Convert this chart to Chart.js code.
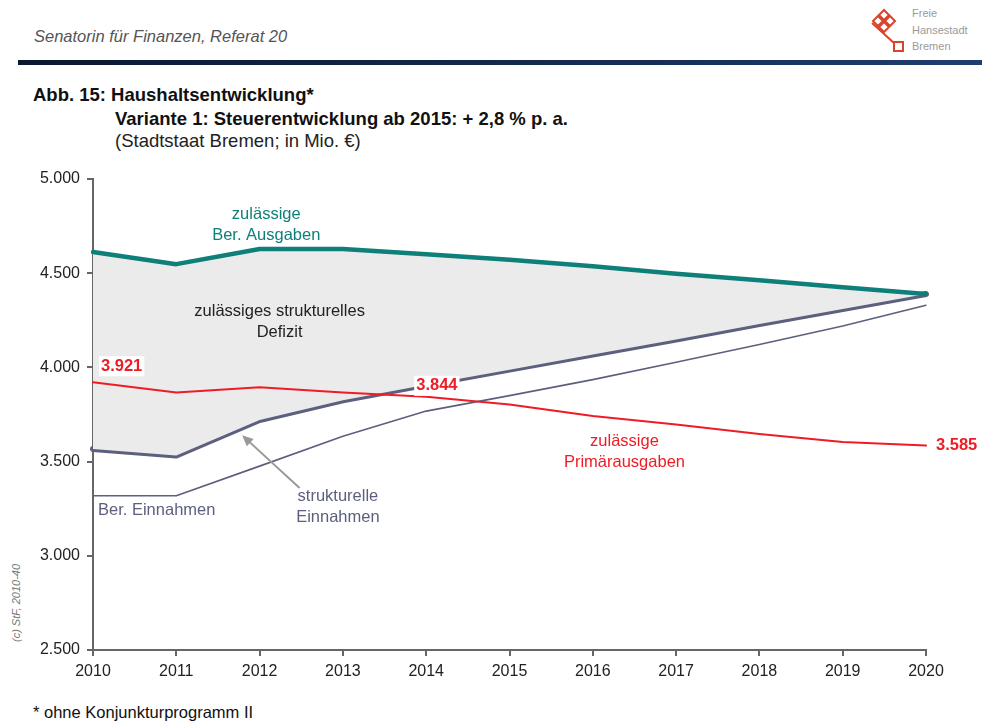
<!DOCTYPE html>
<html lang="de">
<head>
<meta charset="utf-8">
<script src="https://cdn.jsdelivr.net/npm/chart.js@4/dist/chart.umd.min.js"></script>
<style>
  body { margin: 0; background: #fff; font-family: "Liberation Sans", Arial, sans-serif; }
  #page { position: relative; width: 982px; height: 722px; overflow: hidden; }
  .abs { position: absolute; white-space: nowrap; }
  #dept { left: 34px; top: 27px; font-size: 16.5px; font-style: italic; color: #555; }
  #bar { left: 18px; top: 60px; width: 964px; height: 5px;
         background: linear-gradient(to right, #0b1830, #13284c 50%, #1e3d70); }
  .logotxt { left: 912px; font-size: 11px; color: #9a9a9a; }
  #t1 { left: 33px; top: 84px; font-size: 18.5px; font-weight: bold; color: #111; }
  #t2 { left: 115px; top: 108px; font-size: 18.5px; font-weight: bold; color: #111; }
  #t3 { left: 115px; top: 130px; font-size: 18.5px; color: #222; }
  #foot { left: 33px; top: 703px; font-size: 16.5px; color: #111; }
  #copy { left: 16px; top: 603px; font-size: 11px; font-style: italic; color: #777;
          transform: translate(-50%, -50%) rotate(-90deg); }
  #chart { position: absolute; left: 0; top: 160px; }
</style>
</head>
<body>
<div id="page">
  <div class="abs" id="dept">Senatorin für Finanzen, Referat 20</div>
  <div class="abs" id="bar"></div>
  <svg class="abs" style="left:866px;top:6px" width="44" height="50" viewBox="0 0 44 50">
    <g fill="none" stroke="#d9442b" stroke-width="2">
      <path d="M18 4 L23 9 L18 14 L13 9 Z"/>
      <path d="M24 10 L29 15 L24 20 L19 15 Z"/>
      <path d="M12 10 L17 15 L12 20 L7 15 Z"/>
      <path d="M18 16 L23 21 L18 26 L13 21 Z"/>
      <path d="M6 17 L28 37"/>
      <rect x="28" y="36" width="9" height="9"/>
    </g>
  </svg>
  <div class="abs logotxt" style="top:7px">Freie</div>
  <div class="abs logotxt" style="top:24px">Hansestadt</div>
  <div class="abs logotxt" style="top:40px">Bremen</div>
  <div class="abs" id="t1">Abb. 15: Haushaltsentwicklung*</div>
  <div class="abs" id="t2">Variante 1: Steuerentwicklung ab 2015: + 2,8 % p. a.</div>
  <div class="abs" id="t3">(Stadtstaat Bremen; in Mio. €)</div>
  <div class="abs" id="copy">(c) StF, 2010-40</div>
  <div class="abs" id="foot">* ohne Konjunkturprogramm II</div>
  <canvas id="chart" width="982" height="540"></canvas>
</div>
<script>
// Jahre und Reihen (Mio. €)
const years = ['2010', '2011', '2012', '2013', '2014', '2015', '2016', '2017', '2018', '2019', '2020'];
const berAusgaben = [4612, 4548, 4628, 4628, 4601, 4572, 4537, 4497, 4463, 4426, 4390];
const strukEinnahmen = [3567, 3532, 3721, 3825, 3908, 3988, 4068, 4148, 4230, 4310, 4390];
const berEinnahmen = [3319, 3319, 3476, 3635, 3768, 3850, 3935, 4027, 4122, 4220, 4330];
const primaerAusgaben = [3921, 3867, 3894, 3867, 3844, 3803, 3742, 3697, 3646, 3604, 3585];
const yTicks = [2500, 3000, 3500, 4000, 4500, 5000];

const FONT = '"Liberation Sans", Arial, sans-serif';
const TEAL = '#0e7f79';
const SLATE = '#5c607e';
const RED = '#ee1c25';

function fmt(v) {
  return String(v).replace(/\B(?=(\d{3})+(?!\d))/g, '.');
}

// Beschriftungen im Diagramm, Position in Jahr-Index / Mio. €
const notes = [
  { lines: ['zulässige', 'Ber. Ausgaben'], x: 2.08, y: 4810, color: TEAL, align: 'center' },
  { lines: ['zulässiges strukturelles', 'Defizit'], x: 2.24, y: 4298, color: '#222', align: 'center' },
  { lines: ['Ber. Einnahmen'], x: 0.06, y: 3239, color: SLATE, align: 'left' },
  { lines: ['strukturelle', 'Einnahmen'], x: 2.94, y: 3314, color: SLATE, align: 'center' },
  { lines: ['zulässige', 'Primärausgaben'], x: 6.38, y: 3606, color: RED, align: 'center' }
];

// Wertlabels der Primärausgaben (Index in der Reihe, Versatz in px)
const valueLabels = [
  { idx: 0, dx: 8, dy: -16 },
  { idx: 4, dx: -10, dy: -11 },
  { idx: 10, dx: 10, dy: 0 }
];

const annotate = {
  id: 'annotate',
  afterDatasetsDraw(chart) {
    const ctx = chart.ctx;
    const xs = chart.scales.x, ys = chart.scales.y;
    ctx.save();
    ctx.textBaseline = 'middle';
    ctx.font = '16.5px ' + FONT;
    notes.forEach(n => {
      ctx.fillStyle = n.color;
      ctx.textAlign = n.align;
      const px = xs.getPixelForValue(n.x);
      const py = ys.getPixelForValue(n.y);
      n.lines.forEach((t, i) => ctx.fillText(t, px, py + i * 21));
    });

    // Pfeil zu den strukturellen Einnahmen
    const x0 = xs.getPixelForValue(2.48), y0 = ys.getPixelForValue(3360);
    const x1 = xs.getPixelForValue(1.79), y1 = ys.getPixelForValue(3640);
    const a = Math.atan2(y1 - y0, x1 - x0);
    ctx.strokeStyle = '#999';
    ctx.fillStyle = '#999';
    ctx.lineWidth = 2;
    ctx.beginPath();
    ctx.moveTo(x0, y0);
    ctx.lineTo(x1 - 8 * Math.cos(a), y1 - 8 * Math.sin(a));
    ctx.stroke();
    ctx.beginPath();
    ctx.moveTo(x1, y1);
    ctx.lineTo(x1 - 11 * Math.cos(a) + 5 * Math.sin(a), y1 - 11 * Math.sin(a) - 5 * Math.cos(a));
    ctx.lineTo(x1 - 11 * Math.cos(a) - 5 * Math.sin(a), y1 - 11 * Math.sin(a) + 5 * Math.cos(a));
    ctx.closePath();
    ctx.fill();

    // Werte der Primärausgaben mit weissem Hintergrund
    ctx.font = 'bold 16.5px ' + FONT;
    ctx.textAlign = 'left';
    valueLabels.forEach(l => {
      const v = primaerAusgaben[l.idx];
      const txt = fmt(v);
      const px = xs.getPixelForValue(l.idx) + l.dx;
      const py = ys.getPixelForValue(v) + l.dy;
      const w = ctx.measureText(txt).width;
      ctx.fillStyle = '#fff';
      ctx.fillRect(px - 2, py - 10, w + 4, 20);
      ctx.fillStyle = RED;
      ctx.fillText(txt, px, py);
    });
    ctx.restore();
  }
};

new Chart(document.getElementById('chart'), {
  type: 'line',
  data: {
    labels: years,
    datasets: [
      { data: primaerAusgaben, borderColor: RED, borderWidth: 2 },
      { data: berAusgaben, borderColor: TEAL, borderWidth: 4.5,
        fill: { target: 2 }, backgroundColor: '#ebebeb' },
      { data: strukEinnahmen, borderColor: SLATE, borderWidth: 6 },
      { data: berEinnahmen, borderColor: SLATE, borderWidth: 1.6 }
    ]
  },
  options: {
    responsive: false,
    animation: false,
    layout: { padding: { top: 19, right: 56, left: 0, bottom: 0 } },
    elements: {
      point: { radius: 0 },
      line: { tension: 0, borderJoinStyle: 'round', borderCapStyle: 'round' }
    },
    plugins: { legend: { display: false }, tooltip: { enabled: false } },
    scales: {
      x: {
        afterFit: s => { s.height = 50; },
        grid: { drawOnChartArea: false, color: '#666', lineWidth: 2, tickLength: 6 },
        border: { color: '#666', width: 2 },
        ticks: { color: '#222', font: { family: FONT, size: 16 }, padding: 6, maxRotation: 0 }
      },
      y: {
        min: 2500,
        max: 5000,
        afterFit: s => { s.width = 93; },
        afterBuildTicks: s => { s.ticks = yTicks.map(v => ({ value: v })); },
        grid: { drawOnChartArea: false, color: '#666', lineWidth: 2, tickLength: 6 },
        border: { color: '#666', width: 2 },
        ticks: { color: '#222', font: { family: FONT, size: 16 }, padding: 7,
                 callback: v => fmt(v) }
      }
    }
  },
  plugins: [annotate]
});
</script>
</body>
</html>
